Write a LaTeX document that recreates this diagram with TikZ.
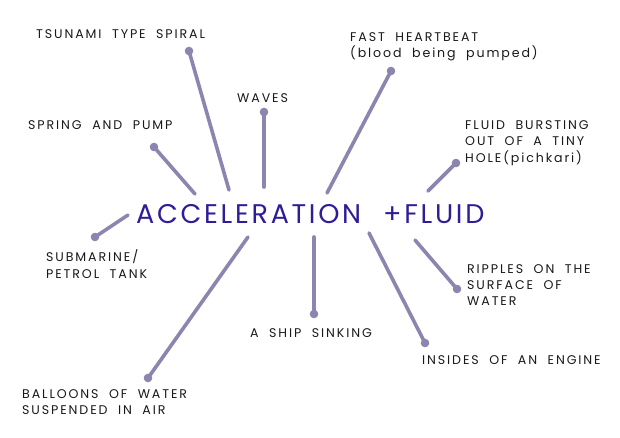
\documentclass[tikz,border=0pt]{standalone}
\usepackage{fontspec}
\setmainfont{Poppins}[LetterSpace=15,WordSpace=2]
\newfontfamily\titlefont{Poppins}[LetterSpace=10]
\definecolor{linecol}{RGB}{138,134,176}
\definecolor{titlecol}{RGB}{48,28,150}
\definecolor{txtcol}{RGB}{25,25,25}
\begin{document}
\begin{tikzpicture}[x=1pt,y=-1pt,
  lbl/.style={anchor=west,inner sep=0pt,align=left,text=txtcol,font=\fontsize{12.6}{16.3}\selectfont},
  spoke/.style={draw=linecol,line width=3.6pt,line cap=round},
  dotend/.style={fill=linecol}]
\useasboundingbox (0,0) rectangle (620,438);
\node[anchor=west,inner sep=0pt,text=titlecol,font=\titlefont\fontsize{27}{30}\selectfont] (title) at (136,214) {ACCELERATION\hspace{22pt}+FLUID};

\node[lbl] (tsu) at (36,34) {TSUNAMI TYPE SPIRAL};
\node[lbl] (wav) at (237,98) {WAVES};
\node[lbl] (spr) at (28,125) {SPRING AND PUMP};
\node[lbl] (hea) at (350,47) {FAST HEARTBEAT\\(blood being pumped)};
\node[lbl] (flu) at (465,143) {FLUID BURSTING\\OUT OF A TINY\\HOLE(pichkari)};
\node[lbl] (sub) at (46,264) {SUBMARINE/\\PETROL TANK};
\node[lbl] (bal) at (22,402) {BALLOONS OF WATER\\SUSPENDED IN AIR};
\node[lbl] (shi) at (250,333) {A SHIP SINKING};
\node[lbl] (rip) at (467,285) {RIPPLES ON THE\\SURFACE OF\\WATER};
\node[lbl] (eng) at (422,360) {INSIDES OF AN ENGINE};

\coordinate (tsuD) at (189,51);  \coordinate (tsuE) at (229,190);
\coordinate (wavD) at (264,112); \coordinate (wavE) at (264,187);
\coordinate (sprD) at (154,147); \coordinate (sprE) at (195,194);
\coordinate (heaD) at (391,71);  \coordinate (heaE) at (327,193);
\coordinate (fluD) at (456,163); \coordinate (fluE) at (428,191);
\coordinate (subD) at (95,237);  \coordinate (subE) at (128,215);
\coordinate (balD) at (148,378); \coordinate (balE) at (248,237);
\coordinate (shiD) at (314,314); \coordinate (shiE) at (314,237);
\coordinate (engD) at (425,343); \coordinate (engE) at (369,233);
\coordinate (ripD) at (457,289); \coordinate (ripE) at (415,240);

\foreach \n in {tsu,wav,spr,hea,flu,sub,bal,shi,eng,rip}{
  \draw[spoke] (\n D) -- (\n E);
  \fill[dotend] (\n D) circle (4.3pt);
}
\end{tikzpicture}
\end{document}
